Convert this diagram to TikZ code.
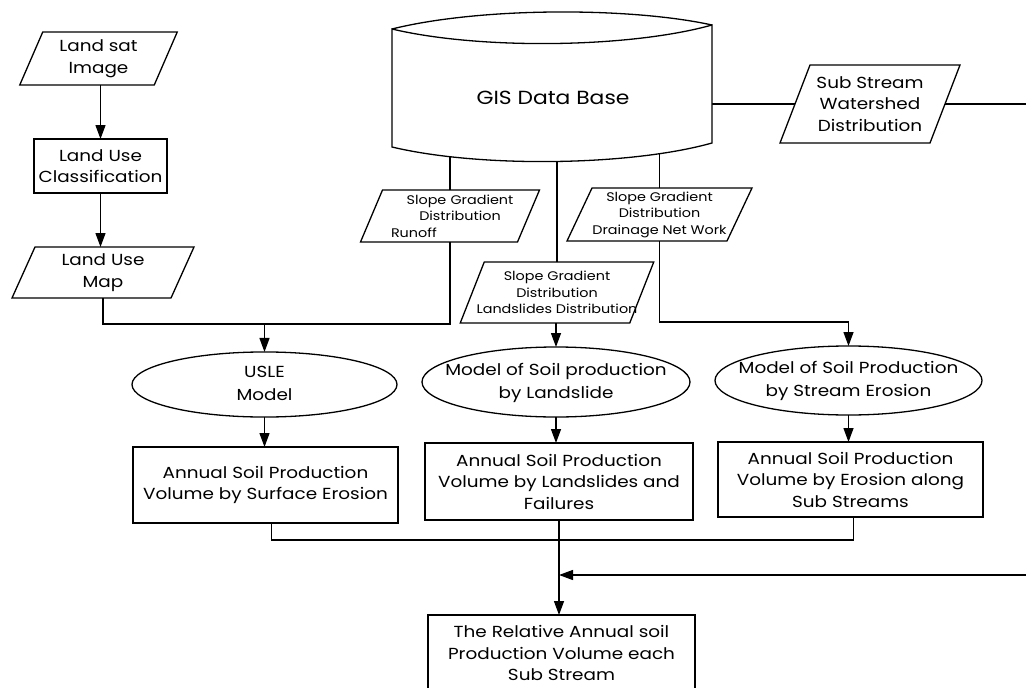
\documentclass[tikz,border=0pt]{standalone}
\usepackage{fontspec}
\setmainfont{Poppins}[FakeStretch=1.15]
\usetikzlibrary{arrows.meta,shapes.geometric,calc}
\newcommand\paradraw[2]{\draw ([xshift=-#2/2]#1.south west) -- ([xshift=#2/2]#1.north west) -- ([xshift=#2/2]#1.north east) -- ([xshift=-#2/2]#1.south east) -- cycle;}
\newcommand\zerowide[1]{\makebox[0pt]{\raisebox{-4pt}{\begin{tabular}{@{}c@{}}#1\end{tabular}}}}
\begin{document}
\begin{tikzpicture}[x=1pt,y=-1pt,line width=1.3pt,
  every node/.style={inner sep=0pt,outer sep=0pt},
  txt/.style={font=\fontsize{16}{21.5}\selectfont,align=center},
  sm/.style={font=\fontsize{12.5}{16.5}\selectfont,align=center},
  rbox/.style={draw,txt,minimum width=#1},
  pnode/.style={minimum width=#1},
  ell/.style={draw,ellipse,font=\fontsize{16}{23}\selectfont,minimum width=#1},
  arr/.style={-{Triangle[length=14pt,width=10pt]}},
]
\clip (0,0) rectangle (1026,688);
\fill[white] (0,0) rectangle (1026,688);
% coordinates
\coordinate (gisc) at (553,98);
\coordinate (gisr) at (712,104);
\coordinate (j1) at (264.5,324);
\coordinate (j2) at (848.5,322);
\coordinate (j3) at (559,540);
\coordinate (j4) at (559,575);
\coordinate (far) at (1060,104);
% left column
\node[txt,pnode=134.5,minimum height=53] (land) at (98.5,58.5) {Land sat\\Image};
\paradraw{land}{23}
\node[rbox=133,minimum height=54] (luc) at (100.5,166) {Land Use\\Classification};
\node[txt,pnode=159,minimum height=51] (lum) at (103,272.5) {Land Use\\Map};
\paradraw{lum}{23}
% data parallelograms
\node[txt,pnode=150,minimum height=78] (ss) at (870,104) {Sub Stream\\Watershed\\Distribution};
\paradraw{ss}{30}
\node[sm,minimum width=157,minimum height=52,text width=150,align=left] (ro) at (450,216)
  {\makebox[150pt]{\hspace{20pt}Slope Gradient}\\\makebox[150pt]{\hspace{20pt}Distribution}\\\hspace*{16pt}Runoff};
\paradraw{ro}{22}
\node[sm,minimum width=169.5,minimum height=61] (lsp) at (557,292.5) {Slope Gradient\\Distribution\\Landslides Distribution};
\paradraw{lsp}{24}
\node[sm,minimum width=160,minimum height=53] (drp) at (659.5,214.5) {Slope Gradient\\Distribution\\Drainage Net Work};
\paradraw{drp}{25}
% models
\node[ell=265,minimum height=65] (usle) at (264.5,384.5) {\zerowide{USLE\\Model}};
\node[ell=268,minimum height=70] (lse) at (556,382) {\zerowide{Model of Soil production\\by Landslide}};
\node[ell=267,minimum height=69] (see) at (848.5,380.5) {\zerowide{Model of Soil Production\\by Stream Erosion}};
% results
\node[rbox=265,minimum height=76] (b1) at (265.5,485) {Annual Soil Production\\Volume by Surface Erosion};
\node[rbox=268,minimum height=77] (b2) at (559,481.5) {Annual Soil Production\\Volume by Landslides and\\Failures};
\node[rbox=265,minimum height=75] (b3) at (850.5,479.5) {Annual Soil Production\\Volume by Erosion along\\Sub Streams};
\node[rbox=267,minimum height=76] (fin) at (561.5,653) {The Relative Annual soil\\Production Volume each\\Sub Stream};
% connectors
\draw[arr] (luc.north |- land.south) -- (luc.north);
\draw[arr] (luc.south) -- (luc.south |- lum.north);
\draw (lum.south) |- (j1) -| (ro.south);
\draw[arr] (j1) -- (usle.north);
\draw (ro.north) -- (ro.north |- gisc);
\draw (lsp.north) -- (lsp.north |- gisc);
\draw (drp.north) -- (drp.north |- gisc);
\draw[arr] (lse.north |- lsp.south) -- (lse.north);
\draw[arr] (drp.south) |- (j2) -- (see.north);
\draw (ss.west) -- (gisr);
\draw[arr] (ss.east) -- (far) |- (j4);
\draw[arr] (usle.south) -- (usle.south |- b1.north);
\draw[arr] (lse.south) -- (lse.south |- b2.north);
\draw[arr] (see.south) -- (see.south |- b3.north);
\draw ([xshift=6pt]b1.south) |- (j3) -| ([xshift=3pt]b3.south);
\draw[arr] (b2.south) -- (b2.south |- fin.north);
% GIS data base cylinder
\draw[fill=white] (392,29) .. controls (480,50) and (630,48) .. (712,25) -- (712,143)
  .. controls (630,166) and (480,168) .. (392,147) -- cycle;
\draw (392,29) .. controls (480,7) and (630,7) .. (712,25);
\node[font=\fontsize{19}{22}\selectfont] (gis) at (gisc) {GIS Data Base};
\end{tikzpicture}
\end{document}
